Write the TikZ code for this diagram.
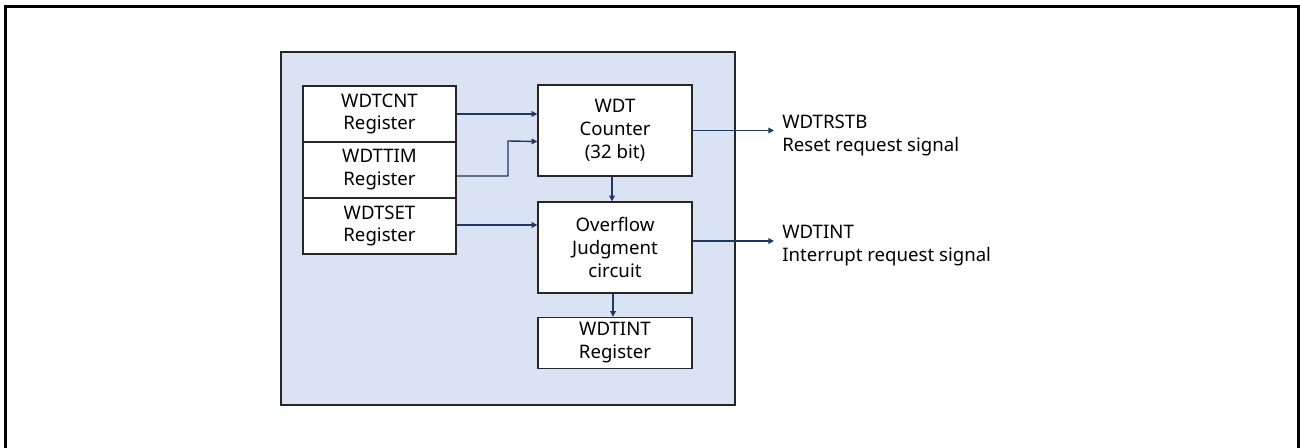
\documentclass[tikz,border=0pt]{standalone}
\usepackage{fontspec}
\setmainfont{Noto Sans}
\usetikzlibrary{arrows.meta,calc}
\definecolor{panel}{HTML}{DAE3F3}
\definecolor{wire}{HTML}{1F3864}
\definecolor{rim}{HTML}{262626}
\newcommand{\RegX}{379.5}
\newcommand{\BlkX}{615}

\begin{document}
\begin{tikzpicture}[
    x=0.02cm, y=-0.02cm,
    font=\fontsize{10.6}{13}\selectfont,
    signal/.style={-{Triangle[length=3.2pt,width=3.2pt]}, line width=0.8pt, draw=wire},
    reg/.style={draw=rim, line width=0.8pt, fill=white, minimum width=3.06cm, minimum height=1.12cm, align=center, inner sep=0pt},
    block/.style={reg, minimum width=3.08cm, minimum height=1.82cm},
    outlabel/.style={anchor=north west, align=left, inner sep=0pt},
  ]
\useasboundingbox (0,0) rectangle (1300,448);
% frame round the whole figure (open at the bottom)
\draw[line width=1.7pt] (5.5,448) |- (1298.5,6.5) -- (1298.5,448);
% the watchdog block
\draw[draw=rim, line width=1pt, fill=panel] (281,52) rectangle (735,405);

% registers on the left, stacked
\foreach \n/\name/\y in {cnt/WDTCNT/114, tim/WDTTIM/170, set/WDTSET/226}
  \node[reg] (\n) at (\RegX, \y) {\name\\Register};

\node[block] (counter) at (\BlkX, 130.5) {WDT\\Counter\\(32 bit)};
\node[block] (ovf) at (\BlkX, 247.5) {Overflow\\Judgment\\circuit};
\node[reg, minimum width=3.08cm, minimum height=1.02cm] (intreg) at (\BlkX, 343) {WDTINT\\Register};

% signals leaving the block
\node[outlabel] (rstb) at (782, 115) {WDTRSTB\\Reset request signal};
\node[outlabel] (wdtint) at (782, 225) {WDTINT\\Interrupt request signal};

\draw[signal] (cnt.east) -- (cnt.east -| counter.west);
\draw[signal] ($(tim.east)+(0,6)$) -| (508,141) -- ($(counter.west)+(0,11)$);
\draw[signal] ($(set.east)+(0,-1)$) -- ($(ovf.west)+(0,-22.5)$);
\draw[signal] ($(counter.south)+(-3,0)$) -- ($(ovf.north)+(-3,0)$);
\draw[signal] ($(ovf.south)+(-2,0)$) -- ($(intreg.north)+(-2,0)$);
\coordinate (rstbend) at ($(rstb.west |- counter.east)+(-8,0)$);
\coordinate (intend) at ($(wdtint.west |- ovf.east)+(-8,-6.5)$);
\draw[signal] (counter.east) -- (rstbend);
\draw[signal] ($(ovf.east)+(0,-6.5)$) -- (intend);

\end{tikzpicture}
\end{document}
